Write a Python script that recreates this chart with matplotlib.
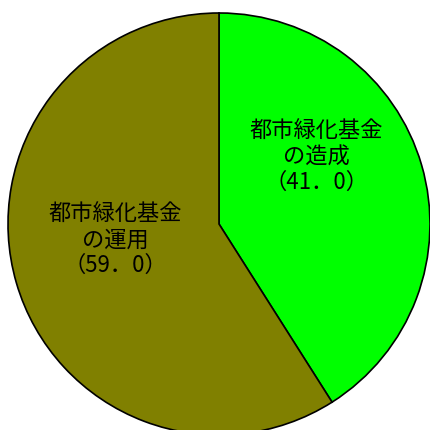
import matplotlib
matplotlib.use("Agg")
import matplotlib.pyplot as plt

plt.rcParams['font.family'] = ['Noto Sans CJK JP', 'DejaVu Sans']

categories = ["都市緑化基金\nの造成", "都市緑化基金\nの運用"]
values = [41.0, 59.0]
value_labels = ["（41．0）", "（59．0）"]
colors = ["#00FF00", "#808000"]

fig = plt.figure(figsize=(4.3, 4.3), dpi=100)
ax = fig.add_axes([0, 0, 1, 1])
ax.set_xlim(0, 430)
ax.set_ylim(0, 430)
ax.set_aspect('equal')
ax.axis('off')

ax.pie(values, colors=colors, startangle=90, counterclock=False,
       center=(219, 206), radius=211,
       wedgeprops=dict(edgecolor='black', linewidth=1.2), frame=False)
ax.set_xlim(0, 430)
ax.set_ylim(0, 430)

label_pos = [(316, 273), (115, 190)]
for (x, y), cat, vl in zip(label_pos, categories, value_labels):
    ax.text(x, y, cat + "\n" + vl, ha='center', va='center', fontsize=16,
            linespacing=1.15, color='black')

fig.savefig("out.png", dpi=100)
